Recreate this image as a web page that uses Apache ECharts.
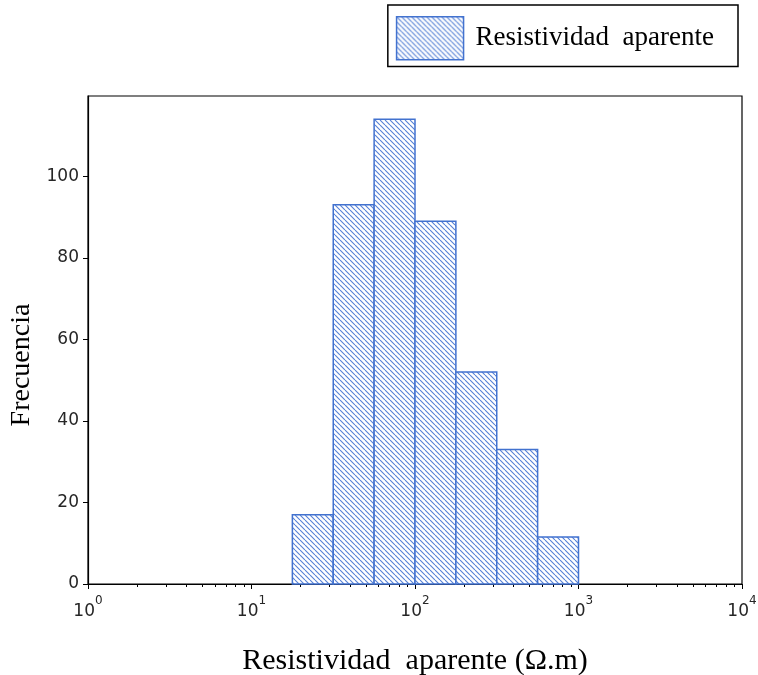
<!DOCTYPE html>
<html><head><meta charset="utf-8">
<script src="https://cdn.jsdelivr.net/npm/echarts@6/dist/echarts.min.js"></script>
<style>html,body{margin:0;padding:0;background:#fff}#c{width:758px;height:675px}</style>
</head><body><div id="c"></div>
<script>
// Data
const binEdges = [17.78, 31.62, 56.23, 100, 177.83, 316.23, 562.34, 1000];
const counts = [17, 93, 114, 89, 52, 33, 11.5];
const seriesName = 'Resistividad  aparente';
const xTitle = 'Resistividad  aparente (Ω.m)';
const yTitle = 'Frecuencia';
const xMajorTicks = [1, 10, 100, 1000, 10000];
const yTicks = [0, 20, 40, 60, 80, 100];

const xMinorTicks = [];
for (let k = 0; k < 4; k++) for (let m = 2; m <= 9; m++) xMinorTicks.push(m * Math.pow(10, k));

// hatch pattern
function makeHatch() {
  const s = 5;
  const c = document.createElement('canvas');
  c.width = s; c.height = s;
  const g = c.getContext('2d');
  g.fillStyle = '#ffffff'; g.fillRect(0, 0, s, s);
  g.strokeStyle = '#5580d6'; g.lineWidth = 1.1;
  g.beginPath();
  for (let o = -s; o <= s; o += s) { g.moveTo(o, 0); g.lineTo(o + s, s); }
  g.stroke();
  return c;
}
const hatch = { image: makeHatch(), repeat: 'repeat' };
const edgeColor = '#4272cf';

const data = counts.map((v, i) => [binEdges[i], binEdges[i + 1], v]);

const chart = echarts.init(document.getElementById('c'));
chart.setOption({
  animation: false,
  grid: { left: 88, right: 16, top: 96, bottom: 91, show: true, borderColor: '#000', borderWidth: 1.2,
          backgroundColor: 'transparent', outerBoundsMode: 'none', containLabel: false },
  legend: {
    show: true, data: [seriesName], right: 20, top: 5,
    orient: 'horizontal',
    padding: [11, 24, 6, 8],
    itemWidth: 67, itemHeight: 43, itemGap: 10,
    borderColor: '#000', borderWidth: 1.5, backgroundColor: '#fff', borderRadius: 0,
    icon: 'rect',
    itemStyle: { color: hatch, borderColor: edgeColor, borderWidth: 1.5 },
    textStyle: { fontFamily: 'Liberation Serif', fontSize: 27, color: '#000', padding: [0, 0, 0, 7] }
  },
  xAxis: [{
    type: 'log', logBase: 10, min: 1, max: 10000,
    name: xTitle, nameLocation: 'middle', nameGap: 62,
    nameTextStyle: { fontFamily: 'Liberation Serif', fontSize: 30, color: '#000' },
    axisLine: { show: true, lineStyle: { color: '#000', width: 1.2 } },
    axisTick: { show: true, length: 5, lineStyle: { color: '#000' }, customValues: xMajorTicks },
    axisLabel: {
      customValues: xMajorTicks, margin: 11,
      formatter: v => '{b|10}{s|' + Math.round(Math.log10(v)) + '}',
      rich: { b: { fontFamily: 'DejaVu Sans', fontSize: 17, color: '#262626', padding: [8, 0, 0, 0] },
              s: { fontFamily: 'DejaVu Sans', fontSize: 12, color: '#262626', verticalAlign: 'top', padding: [0, 0, 9, 0] } }
    },
    splitLine: { show: false }, minorTick: { show: false }
  }, {
    type: 'log', logBase: 10, min: 1, max: 10000, position: 'bottom', gridIndex: 0,
    axisLine: { show: false },
    axisTick: { show: true, length: 3, lineStyle: { color: '#000' }, customValues: xMinorTicks },
    axisLabel: { show: false }, splitLine: { show: false }
  }],
  yAxis: {
    type: 'value', min: 0, max: 119.7,
    name: yTitle, nameLocation: 'middle', nameGap: 50, nameRotate: 90,
    nameTextStyle: { fontFamily: 'Liberation Serif', fontSize: 28, color: '#000', padding: [0, 50, 0, 0] },
    axisLine: { show: true, lineStyle: { color: '#000', width: 1.2 } },
    axisTick: { show: true, length: 5, lineStyle: { color: '#000' }, customValues: yTicks },
    axisLabel: { customValues: yTicks, margin: 9, fontFamily: 'DejaVu Sans', fontSize: 17, color: '#262626' },
    splitLine: { show: false }
  },
  series: [{
    type: 'custom', name: seriesName, xAxisIndex: 0, yAxisIndex: 0,
    itemStyle: { color: hatch, borderColor: edgeColor, borderWidth: 1.5 },
    encode: { x: [0, 1], y: 2 },
    data: data,
    renderItem: function (params, api) {
      const p0 = api.coord([api.value(0), api.value(2)]);
      const p1 = api.coord([api.value(1), 0]);
      return {
        type: 'rect',
        shape: { x: p0[0], y: p0[1], width: p1[0] - p0[0], height: p1[1] - p0[1] },
        style: { fill: hatch, stroke: edgeColor, lineWidth: 1.5 }
      };
    }
  }]
});
</script></body></html>
